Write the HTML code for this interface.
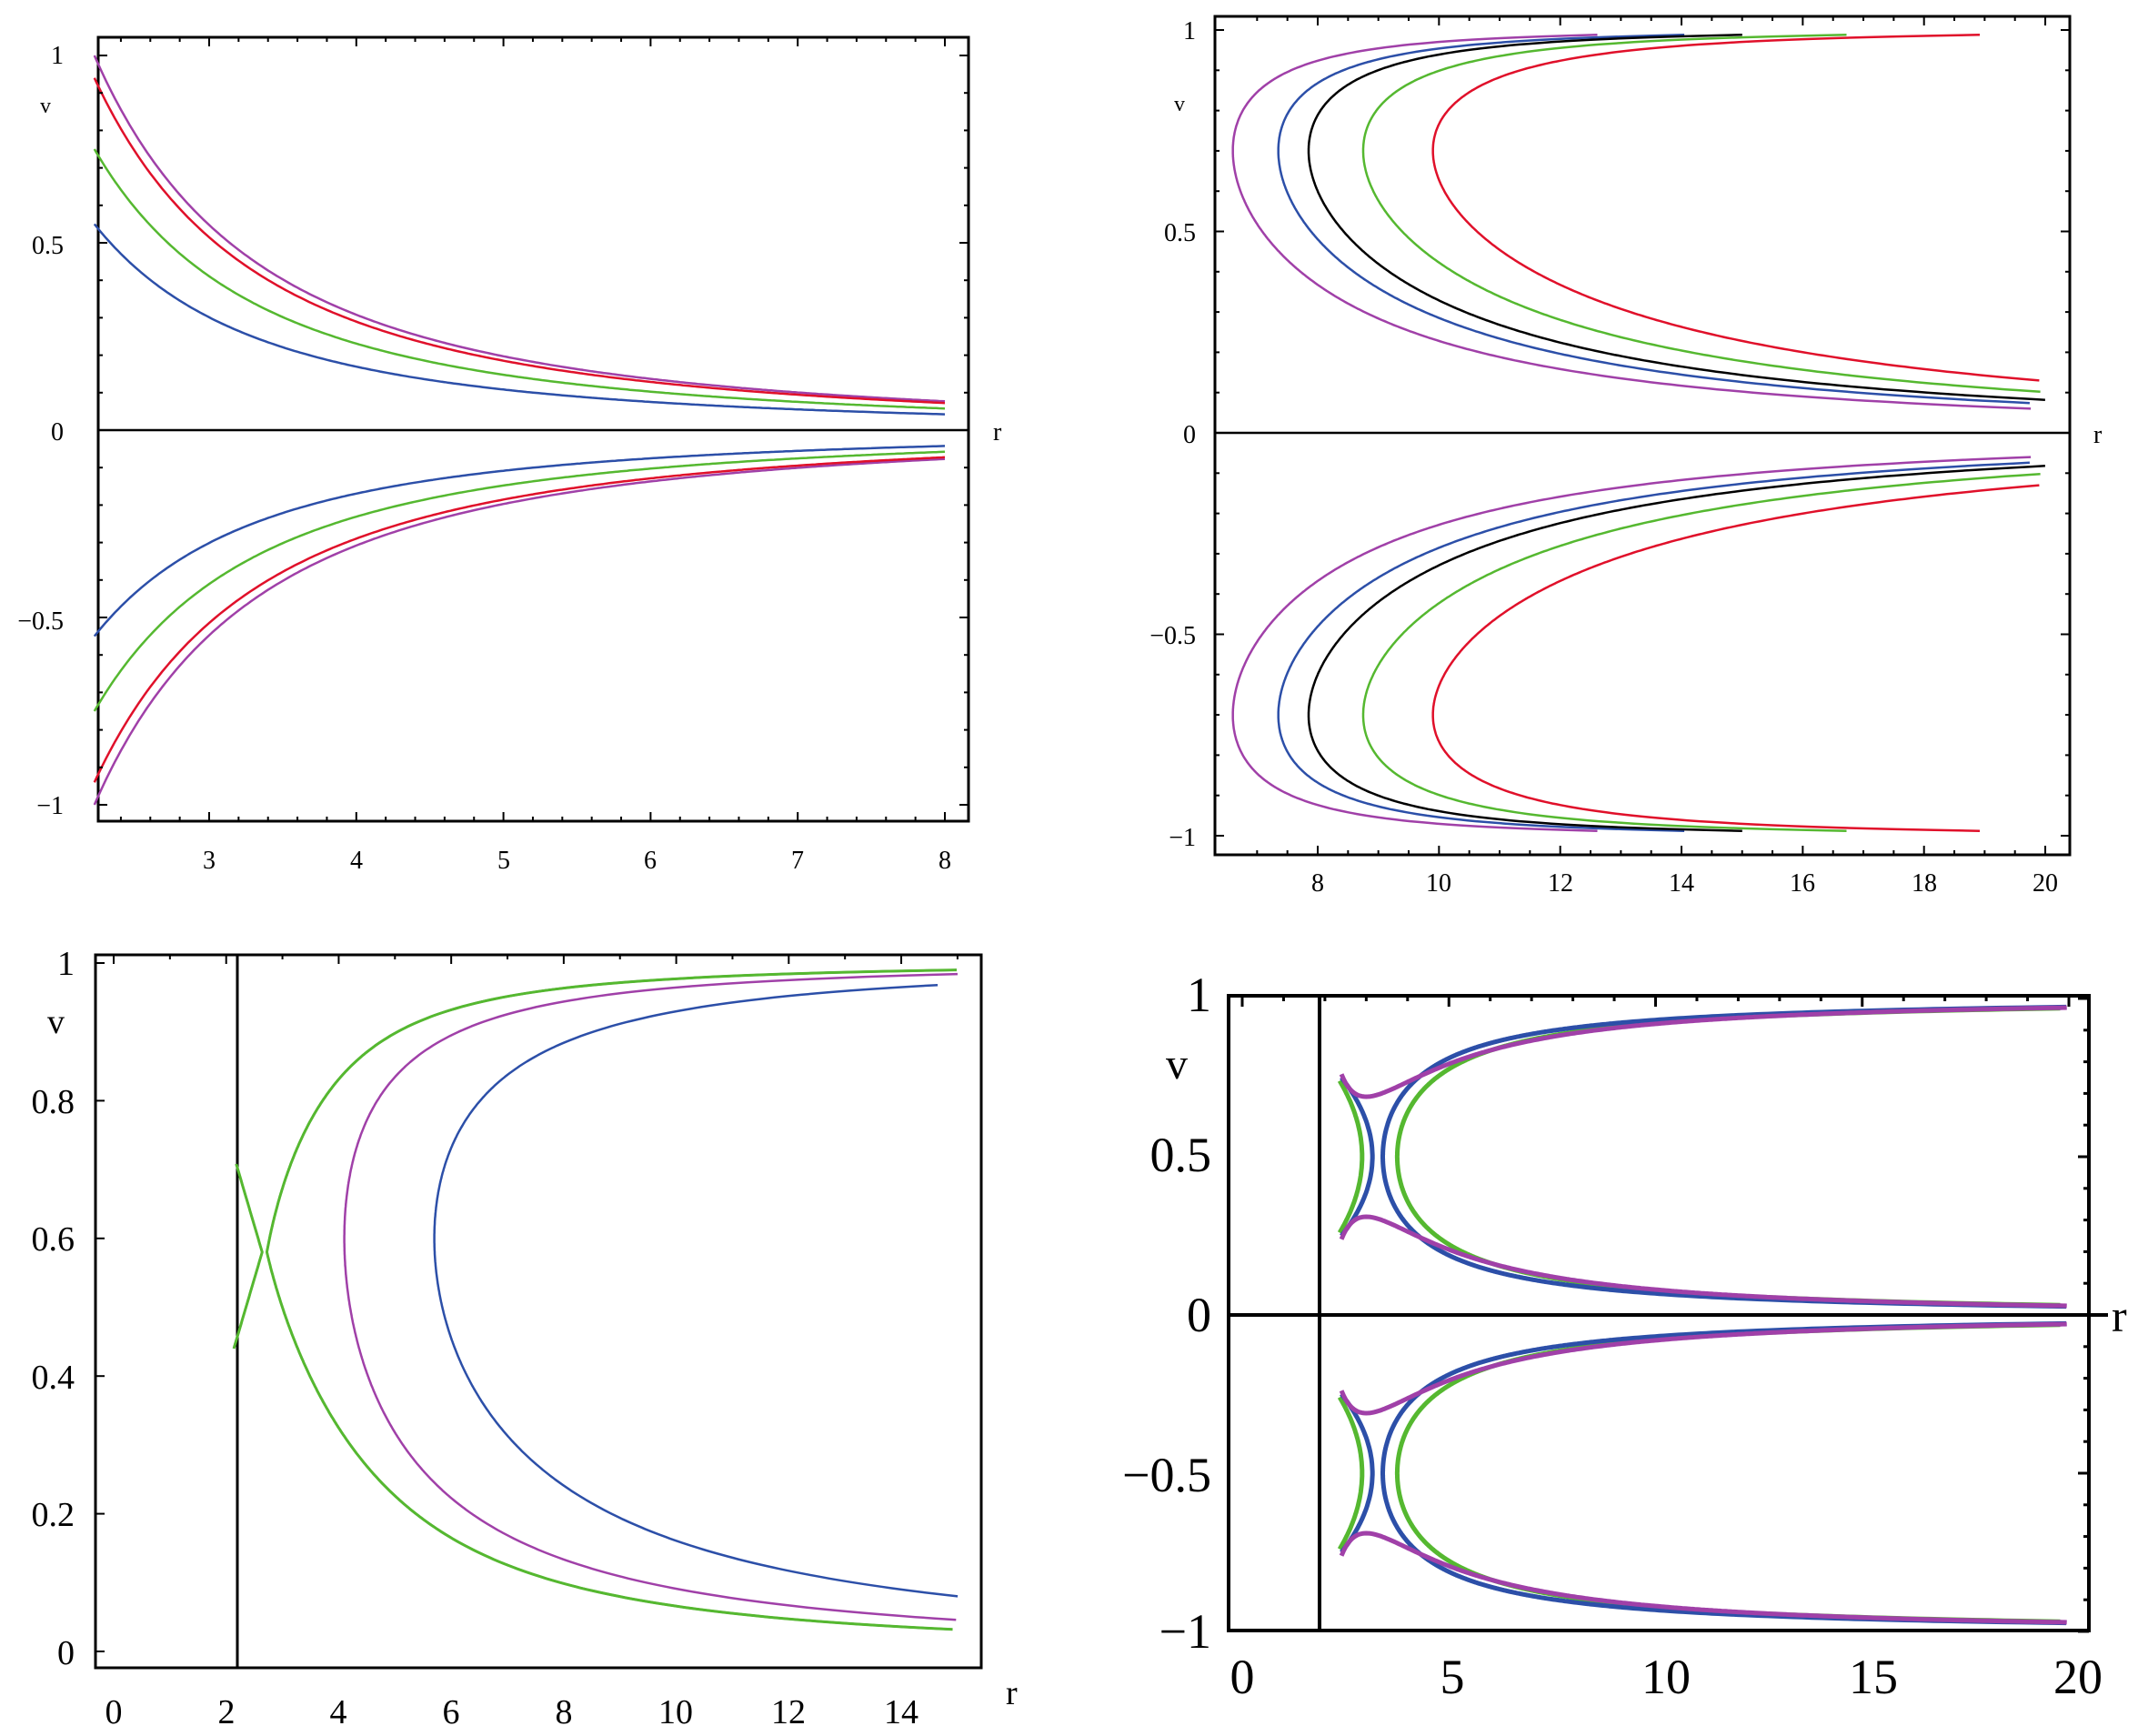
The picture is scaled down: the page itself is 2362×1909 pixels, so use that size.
<!DOCTYPE html>
<html><head><meta charset="utf-8"><style>
html,body{margin:0;padding:0;background:#fff;}
svg{display:block;}
text{font-family:"Liberation Serif",serif;fill:#000;}
</style></head><body>
<svg id="s" xmlns="http://www.w3.org/2000/svg" width="2362" height="1909" viewBox="0 0 2362 1909">
<rect width="2362" height="1909" fill="#fff"/>
<!-- TL -->
<rect x="108" y="41" width="957" height="862" fill="none" stroke="#000" stroke-width="3"/>
<line x1="108" y1="473" x2="1065" y2="473" stroke="#000" stroke-width="2.5"/>
<g font-size="28" text-anchor="end">
<text x="70" y="70">1</text><text x="70" y="279">0.5</text><text x="70" y="484">0</text><text x="70" y="692">−0.5</text><text x="70" y="895">−1</text>
</g>
<text x="44" y="124" font-size="24">v</text><text x="1092" y="484" font-size="28">r</text>
<g font-size="28" text-anchor="middle">
<text x="230" y="955">3</text><text x="392" y="955">4</text><text x="554" y="955">5</text><text x="715" y="955">6</text><text x="877" y="955">7</text><text x="1039" y="955">8</text>
</g>
<!-- TR -->
<rect x="1336" y="18" width="940" height="922" fill="none" stroke="#000" stroke-width="3"/>
<line x1="1336" y1="476" x2="2276" y2="476" stroke="#000" stroke-width="2.5"/>
<g font-size="28" text-anchor="end">
<text x="1315" y="43">1</text><text x="1315" y="265">0.5</text><text x="1315" y="487">0</text><text x="1315" y="708">−0.5</text><text x="1315" y="930">−1</text>
</g>
<text x="1291" y="122" font-size="24">v</text><text x="2302" y="487" font-size="28">r</text>
<g font-size="28" text-anchor="middle">
<text x="1449" y="980">8</text><text x="1582" y="980">10</text><text x="1716" y="980">12</text><text x="1849" y="980">14</text><text x="1982" y="980">16</text><text x="2116" y="980">18</text><text x="2249" y="980">20</text>
</g>
<!-- BL -->
<rect x="105" y="1050" width="974" height="784" fill="none" stroke="#000" stroke-width="3"/>
<line x1="261" y1="1050" x2="261" y2="1834" stroke="#000" stroke-width="3"/>
<g font-size="38" text-anchor="end">
<text x="82" y="1072">1</text><text x="82" y="1224">0.8</text><text x="82" y="1375">0.6</text><text x="82" y="1527">0.4</text><text x="82" y="1678">0.2</text><text x="82" y="1830">0</text>
</g>
<text x="52" y="1136" font-size="38">v</text><text x="1106" y="1874" font-size="38">r</text>
<g font-size="38" text-anchor="middle">
<text x="125" y="1895">0</text><text x="249" y="1895">2</text><text x="372" y="1895">4</text><text x="496" y="1895">6</text><text x="620" y="1895">8</text><text x="743" y="1895">10</text><text x="867" y="1895">12</text><text x="991" y="1895">14</text>
</g>
<!-- BR -->
<rect x="1351" y="1095" width="946" height="698" fill="none" stroke="#000" stroke-width="4"/>
<line x1="1351" y1="1446" x2="2318" y2="1446" stroke="#000" stroke-width="4"/>
<line x1="1451" y1="1095" x2="1451" y2="1793" stroke="#000" stroke-width="4"/>
<g font-size="54" text-anchor="end">
<text x="1332" y="1112">1</text><text x="1332" y="1288">0.5</text><text x="1332" y="1464">0</text><text x="1332" y="1640">−0.5</text><text x="1332" y="1812">−1</text>
</g>
<text x="1282" y="1186" font-size="48">v</text><text x="2322" y="1464" font-size="50">r</text>
<g font-size="54" text-anchor="middle">
<text x="1366" y="1862">0</text><text x="1597" y="1862">5</text><text x="1832" y="1862">10</text><text x="2060" y="1862">15</text><text x="2285" y="1862">20</text>
</g>
<g id="c" fill="none" stroke-linejoin="round"></g>
</svg>
<script>
var NS="http://www.w3.org/2000/svg",G=document.getElementById('c');
var P="#a040a8",R="#e0102a",Gr="#55b830",B="#2c4fa8",K="#000";
function pl(pts,col,w){var p=document.createElementNS(NS,'polyline');p.setAttribute('points',pts.map(function(a){return a[0].toFixed(1)+','+a[1].toFixed(1)}).join(' '));p.setAttribute('stroke',col);p.setAttribute('stroke-width',w);G.appendChild(p);}
function tick(x1,y1,x2,y2,w){var l=document.createElementNS(NS,'line');l.setAttribute('x1',x1);l.setAttribute('y1',y1);l.setAttribute('x2',x2);l.setAttribute('y2',y2);l.setAttribute('stroke','#000');l.setAttribute('stroke-width',w);G.appendChild(l);}
// TL
(function(){var px=function(r){return 230+(r-3)*161.8},py=function(v){return 473-v*412};
[[1,P],[0.94,R],[0.75,Gr],[0.55,B]].forEach(function(c){[1,-1].forEach(function(s){var a=[];for(var r=2.22;r<=8.0;r+=0.02)a.push([px(r),py(s*c[0]*Math.pow(2.22/r,2))]);pl(a,c[1],2.5);});});
for(var r=2.4;r<8.1;r+=0.2){var x=px(r),L=(Math.abs(r-Math.round(r))<0.01)?10:5;tick(x,41,x,41+L,2);tick(x,903,x,903-L,2);}
for(var v=-1;v<=1.001;v+=0.1){var y=py(v),L=(Math.abs(v*2-Math.round(v*2))<0.01)?10:5;tick(108,y,108+L,y,2);tick(1065,y,1065-L,y,2);}
})();
// TR
(function(){var px=function(r){return 1449+(r-8)*66.67},py=function(v){return 476-v*443};
var p=0.52,q=0.27;function g(v){return Math.pow(v,-p)*Math.pow(1-v*v,-q);}var g0=g(0.7);
[[6.6,P],[7.35,B],[7.85,K],[8.75,Gr],[9.9,R]].forEach(function(c){[1,-1].forEach(function(s){var a=[];for(var v=0.02;v<0.99;v+=0.002){var r=c[0]*g(v)/g0;if(r>20)continue;if(v>0.7&&r/c[0]>1.95)continue;a.push([px(r),py(s*v)]);}pl(a,c[1],2.5);});});
for(var r=7;r<=20;r+=0.5){var x=px(r),L=(r%2==0)?10:5;tick(x,18,x,18+L,2);tick(x,940,x,940-L,2);}
for(var v=-1;v<=1.001;v+=0.1){var y=py(v),L=(Math.abs(v*2-Math.round(v*2))<0.01)?10:5;tick(1336,y,1336+L,y,2);tick(2276,y,2276-L,y,2);}
})();
// BL
(function(){var px=function(r){return 125+r*61.86},py=function(v){return 1816-v*757};
var p=0.596,q=0.53;function g(v){return Math.pow(v,-p)*Math.pow(1-v*v,-q);}
var g0=g(0.6);
[[5.7,B],[4.1,P]].forEach(function(c){var a=[];for(var v=0.01;v<0.995;v+=0.002){var r=c[0]*g(v)/g0;if(r>15.05)continue;a.push([px(r),py(v)]);}pl(a,c[1],2.5);});
var vc=0.58,rc=2.72;
[K,Gr].forEach(function(col,i){var a=[];for(var v=0.01;v<0.995;v+=0.002){var r=rc+2.53*Math.abs(v-vc)+3.06*(g(v)/g0-1);if(r>15.05)continue;a.push([px(r),py(v)]);}pl(a,col,i?3:2.5);
var b=[];for(var v=0.44;v<=0.712;v+=0.004){b.push([px(rc-0.08-3.6*Math.abs(v-vc)),py(v)]);}pl(b,col,i?3:2.5);});
for(var r=0;r<=15;r+=1){var x=px(r),L=(r%2==0)?10:5;tick(x,1050,x,1050+L,2);}
for(var v=0;v<=1.001;v+=0.2){var y=py(v);tick(105,y,115,y,2);}
})();
// BR
(function(){var px=function(r){return 1366+r*45.45},py=function(v){return 1446-v*348};
var q=0.785;function H(u){return Math.pow(0.25/(0.25-u*u),q);}
[0,-1].forEach(function(off){
[[3.75,Gr],[3.4,B]].forEach(function(c){var a=[];for(var u=-0.499;u<0.499;u+=0.001){var r=c[0]*H(u);if(r>20)continue;a.push([px(r),py(0.5+u+off)]);}pl(a,c[1],5);});
[[2.9,9.45,0.24,Gr],[3.15,12,0.25,B]].forEach(function(c){var a=[];for(var u=-c[2];u<=c[2]+1e-6;u+=0.005)a.push([px(c[0]-c[1]*u*u),py(0.5+u+off)]);pl(a,c[3],5);});
[1,-1].forEach(function(s){var a=[];for(var r=2.4;r<=20;r+=0.05){var w=0.5-2.58/Math.pow(r,1.5)+15.08/Math.pow(r,4);a.push([px(r),py(0.5+s*w+off)]);}pl(a,P,5);});
});
for(var r=0;r<=20;r+=1){var x=px(r),L=(r%5==0)?12:6;tick(x,1095,x,1095+L,3);}
for(var v=-1;v<=1.001;v+=0.1){var y=py(v),L=(Math.abs(v*2-Math.round(v*2))<0.01)?12:6;tick(2297,y,2297-L,y,3);}
})();
</script>
</body></html>
